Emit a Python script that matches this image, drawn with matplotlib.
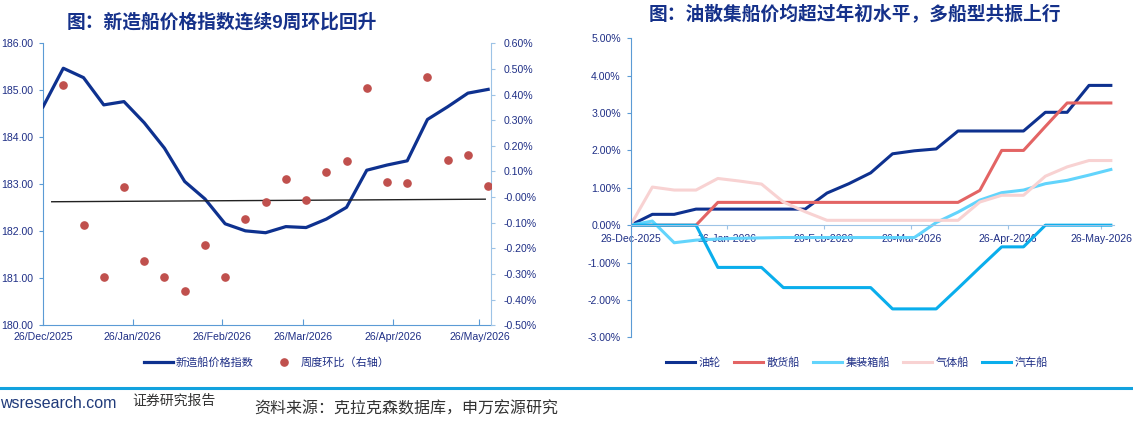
import numpy as np
import pandas as pd
import matplotlib
matplotlib.use('Agg')
import matplotlib.pyplot as plt
from matplotlib.lines import Line2D

plt.rcParams['font.family'] = ['Liberation Sans', 'Noto Sans CJK SC']
plt.rcParams['axes.unicode_minus'] = False

# weekly dates (Friday)
dates = pd.to_datetime([
    '2025-12-26', '2026-01-02', '2026-01-09', '2026-01-16', '2026-01-23', '2026-01-30',
    '2026-02-06', '2026-02-13', '2026-02-20', '2026-02-27', '2026-03-06', '2026-03-13',
    '2026-03-20', '2026-03-27', '2026-04-03', '2026-04-10', '2026-04-17', '2026-04-24',
    '2026-05-01', '2026-05-08', '2026-05-15', '2026-05-22', '2026-05-29'])

# left chart: newbuilding price index + weekly change (%)
price_index = [184.65, 185.47, 185.27, 184.69, 184.76, 184.31, 183.77, 183.06, 182.69,
               182.16, 182.01, 181.97, 182.10, 182.08, 182.26, 182.51, 183.30, 183.41,
               183.50, 184.38, 184.65, 184.94, 185.02]
wow_change = [np.nan, 0.437, -0.109, -0.313, 0.038, -0.250, -0.310, -0.365, -0.187,
              -0.313, -0.084, -0.018, 0.071, -0.011, 0.098, 0.142, 0.427, 0.060,
              0.054, 0.469, 0.145, 0.163, 0.045]
ref_dates = pd.to_datetime(['2025-12-29', '2026-05-28'])
ref_values = [-0.018, -0.008]

# right chart: change vs start of year (%) by ship type
ship_names = ['油轮', '散货船', '集装箱船', '气体船', '汽车船']
tanker = [0, 0.29, 0.29, 0.43, 0.43, 0.43, 0.43, 0.43, 0.43, 0.86, 1.11, 1.40, 1.91,
          1.99, 2.04, 2.52, 2.52, 2.52, 2.52, 3.02, 3.02, 3.74, 3.74]
bulker = [0, 0, 0, 0, 0.61, 0.61, 0.61, 0.61, 0.61, 0.61, 0.61, 0.61, 0.61, 0.61,
          0.61, 0.61, 0.93, 2.00, 2.00, 2.64, 3.27, 3.27, 3.27]
container = [0, 0.11, -0.47, -0.40, -0.37, -0.35, -0.34, -0.33, -0.33, -0.33, -0.33,
             -0.33, -0.33, -0.33, 0.07, 0.35, 0.67, 0.87, 0.94, 1.11, 1.20, 1.34, 1.49]
gas = [0, 1.02, 0.94, 0.94, 1.25, 1.18, 1.10, 0.62, 0.36, 0.13, 0.13, 0.13, 0.13,
       0.13, 0.13, 0.13, 0.62, 0.80, 0.80, 1.31, 1.56, 1.73, 1.73]
car = [0, 0, 0, 0, -1.13, -1.13, -1.13, -1.67, -1.67, -1.67, -1.67, -1.67, -2.24,
       -2.24, -2.24, -1.69, -1.13, -0.58, -0.58, 0, 0, 0, 0]
ship_series = [tanker, bulker, container, gas, car]
ship_colors = ['#0E318F', '#E36464', '#62D4FC', '#F8D2D2', '#0AAEEC']

tick_dates = pd.to_datetime(['2025-12-26', '2026-01-26', '2026-02-26', '2026-03-26',
                             '2026-04-26', '2026-05-26'])
x_min = pd.Timestamp('2025-12-26')
x_max = pd.Timestamp('2026-05-30')

label_color = '#1F2F86'
title_color = '#15318A'
spine_blue = '#5B9BD5'
spine_light = '#9DC3E6'
tick_fs = 7.6

fig = plt.figure(figsize=(11.33, 4.21), dpi=100)

# ---------------- left chart ----------------
ax = fig.add_axes([0.0380, 0.2273, 0.3954, 0.6698])
ax.plot(dates, price_index, color='#0E318F', lw=2.3, zorder=3)
ax.set_xlim(x_min, x_max)
ax.set_ylim(180, 186)
ax.set_yticks(np.arange(180, 186.01, 1))
ax.yaxis.set_major_formatter(matplotlib.ticker.FormatStrFormatter('%.2f'))
ax.set_xticks(tick_dates)
ax.set_xticklabels([d.strftime('%d/%b/%Y') for d in tick_dates])
for s in ['top', 'right']:
    ax.spines[s].set_visible(False)
ax.spines['left'].set_color(spine_blue)
ax.spines['bottom'].set_color(spine_blue)
ax.tick_params(axis='y', colors=spine_blue, labelcolor=label_color, labelsize=tick_fs,
               length=3, pad=4)
ax.tick_params(axis='x', colors=spine_blue, labelcolor=label_color, labelsize=tick_fs,
               direction='in', length=4, pad=5)

ax2 = ax.twinx()
ax2.plot(ref_dates, ref_values, color='#222222', lw=1.0, zorder=2)
ax2.plot(dates, wow_change, 'o', color='#C0504D', ms=5.2, zorder=4)
ax2.set_ylim(-0.5, 0.6)
ax2.set_yticks(np.arange(-0.5, 0.61, 0.1))
ax2.yaxis.set_major_formatter(matplotlib.ticker.FuncFormatter(lambda v, p: f'{v:.2f}%'))
for s in ['top', 'left', 'bottom']:
    ax2.spines[s].set_visible(False)
ax2.spines['right'].set_color(spine_light)
ax2.tick_params(axis='y', colors=spine_light, labelcolor=label_color, labelsize=tick_fs,
                length=3, pad=6)

h1 = Line2D([], [], color='#0E318F', lw=2.3)
h2 = Line2D([], [], color='#C0504D', marker='o', ls='none', ms=5.2)
leg = fig.legend([h1, h2], ['新造船价格指数', '周度环比（右轴）'], loc='center',
                 bbox_to_anchor=(0.2357, 0.1385), ncol=2, frameon=False, fontsize=8,
                 handlelength=2.6, handletextpad=0.2, columnspacing=1.5)
for t in leg.get_texts():
    t.set_color(label_color)

fig.text(0.196, 0.946, '图：新造船价格指数连续9周环比回升', ha='center', va='center',
         fontsize=13.5, fontweight='bold', color=title_color)

# ---------------- right chart ----------------
bx = fig.add_axes([0.5565, 0.1988, 0.4267, 0.7102])
for name, vals, c in zip(ship_names, ship_series, ship_colors):
    bx.plot(dates, vals, color=c, lw=2.2, label=name)
bx.set_xlim(x_min, x_max)
bx.set_ylim(-3, 5)
bx.set_yticks(np.arange(-3, 5.01, 1))
bx.yaxis.set_major_formatter(matplotlib.ticker.FuncFormatter(lambda v, p: f'{v:.2f}%'))
bx.set_xticks(tick_dates)
bx.set_xticklabels([d.strftime('%d-%b-%Y') for d in tick_dates])
for s in ['top', 'right']:
    bx.spines[s].set_visible(False)
bx.spines['left'].set_color(spine_blue)
bx.spines['bottom'].set_position(('data', 0))
bx.spines['bottom'].set_color(spine_light)
bx.tick_params(axis='y', colors=spine_blue, labelcolor=label_color, labelsize=tick_fs,
               length=3, pad=4)
bx.tick_params(axis='x', colors=spine_light, labelcolor=label_color, labelsize=tick_fs,
               length=3, pad=3)

leg2 = fig.legend(loc='center', bbox_to_anchor=(0.7564, 0.1385), ncol=5, frameon=False,
                  fontsize=8, handlelength=2.6, handletextpad=0.3, columnspacing=1.2,
                  handles=bx.get_lines())
for t in leg2.get_texts():
    t.set_color(label_color)

fig.text(0.7546, 0.965, '图：油散集船价均超过年初水平，多船型共振上行', ha='center',
         va='center', fontsize=13.5, fontweight='bold', color=title_color)

# ---------------- footer ----------------
fig.add_artist(Line2D([0, 1], [1 - 387.5 / 421] * 2, transform=fig.transFigure,
                      color='#12A2DE', lw=2.2))
fig.text(0.0, 1 - 403 / 421, 'wsresearch.com', ha='left', va='center', fontsize=11.5,
         color='#1F3A7A')
fig.text(132 / 1133, 1 - 401 / 421, '证券研究报告', ha='left', va='center', fontsize=10,
         color='#333333')
fig.text(254 / 1133, 1 - 409 / 421, '资料来源：克拉克森数据库，申万宏源研究', ha='left',
         va='center', fontsize=11.5, color='#333333')

fig.savefig('out.png', dpi=100)
